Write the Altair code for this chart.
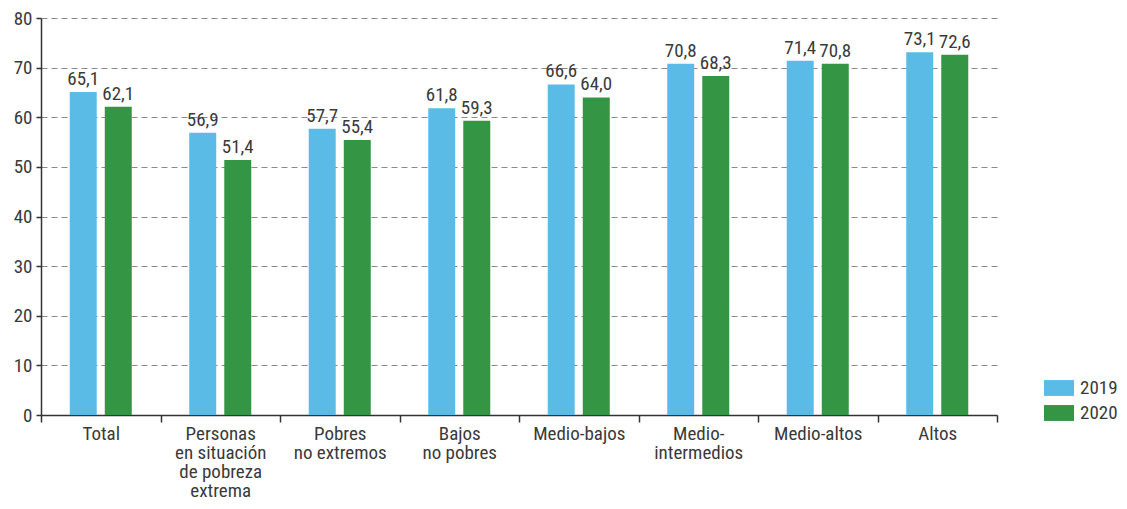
import altair as alt
import pandas as pd

categories = ["Total", "Personas|en situación|de pobreza|extrema", "Pobres|no extremos",
              "Bajos|no pobres", "Medio-bajos", "Medio-|intermedios", "Medio-altos", "Altos"]
years = ["2019", "2020"]
values_2019 = [65.1, 56.9, 57.7, 61.8, 66.6, 70.8, 71.4, 73.1]
values_2020 = [62.1, 51.4, 55.4, 59.3, 64.0, 68.3, 70.8, 72.6]
colors = ["#5BBBE7", "#349544"]
y_ticks = [0, 10, 20, 30, 40, 50, 60, 70, 80]

rows = []
for c, a, b in zip(categories, values_2019, values_2020):
    rows.append({"cat": c, "year": "2019", "value": a})
    rows.append({"cat": c, "year": "2020", "value": b})
df = pd.DataFrame(rows)
df["label"] = df["value"].map(lambda v: f"{v:.1f}".replace(".", ","))

FONT = "Liberation Sans Narrow, Roboto Condensed, Roboto, sans-serif"
FS = 19
TXT = "#3a3a3a"

x_enc = alt.X("cat:N", sort=categories, title=None,
              scale=alt.Scale(paddingInner=0, paddingOuter=0),
              axis=alt.Axis(labelExpr="split(datum.label, '|')", labelAngle=0,
                            tickBand="extent", tickSize=7, labelPadding=2,
                            labelFontSize=FS, labelLineHeight=19, labelBaseline="top",
                            labelColor=TXT, domainColor="#333333", tickColor="#333333",
                            domainWidth=1.5, tickWidth=1.5, grid=False, labelFont=FONT))
xoff = alt.XOffset("year:N", scale=alt.Scale(domain=years, paddingInner=0.23, paddingOuter=0.82))

bars = alt.Chart(df).mark_bar().encode(
    x=x_enc,
    xOffset=xoff,
    y=alt.Y("value:Q", title=None,
            scale=alt.Scale(domain=[0, 80], nice=False),
            axis=alt.Axis(values=y_ticks, tickSize=5, labelPadding=4, labelFontSize=FS,
                          labelFont=FONT, labelColor=TXT, domainColor="#333333",
                          tickColor="#333333", domainWidth=1.5, tickWidth=1.5,
                          grid=True, gridDash=[6, 4], gridColor="#8a8a8a", gridWidth=1)),
    fill=alt.Fill("year:N", title=None,
                  scale=alt.Scale(domain=years, range=colors),
                  legend=alt.Legend(orient="none", legendX=1003, legendY=355,
                                    symbolType="M-1,-0.53H1V0.53H-1Z", symbolSize=900,
                                    symbolStrokeWidth=0, labelFontSize=FS, labelFont=FONT,
                                    labelColor=TXT, labelOffset=6, rowPadding=0)),
)

texts = alt.Chart(df).mark_text(baseline="bottom", dy=-3, fontSize=FS, font=FONT,
                                color=TXT).encode(
    x=alt.X("cat:N", sort=categories),
    xOffset=xoff,
    y=alt.Y("value:Q"),
    text="label:N",
)

chart = alt.layer(bars, texts).properties(
    width=956, height=397,
    padding={"left": 33, "top": 10, "right": 122, "bottom": 86},
    autosize=alt.AutoSizeParams(type="none"),
).configure_view(stroke=None)

chart.save("out.html", embed_options={"renderer": "svg", "actions": False})
